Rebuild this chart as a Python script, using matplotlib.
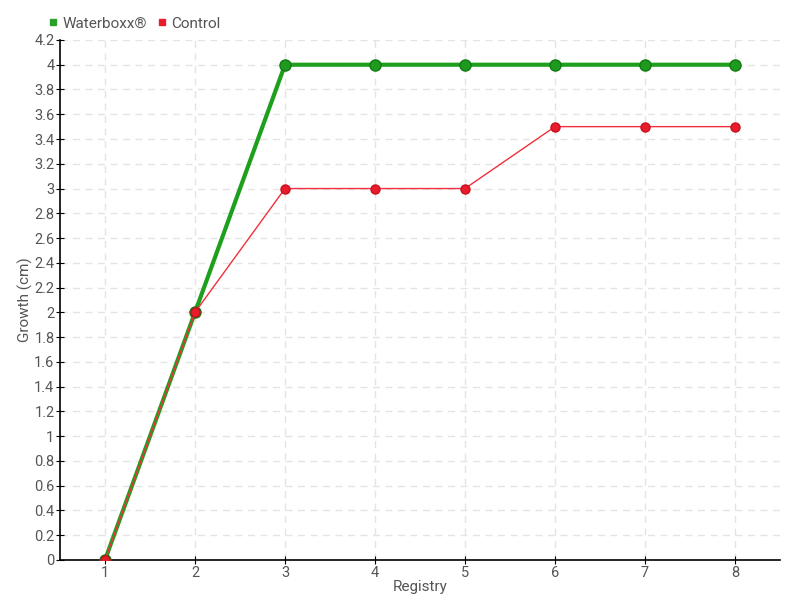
import matplotlib
matplotlib.use('Agg')
import matplotlib.pyplot as plt
from matplotlib.lines import Line2D
import numpy as np

registry = [1, 2, 3, 4, 5, 6, 7, 8]
waterboxx = [0, 2, 4, 4, 4, 4, 4, 4]
control = [0, 2, 3, 3, 3, 3.5, 3.5, 3.5]
yticks = np.round(np.arange(0, 4.21, 0.2), 1)

plt.rcParams['font.family'] = ['Roboto', 'DejaVu Sans']

fig = plt.figure(figsize=(8, 6), dpi=100)
ax = fig.add_axes([0.075, 0.0667, 0.9, 0.8667])

ax.plot(registry, waterboxx, color='#1ea01e', lw=3, marker='o', ms=8,
        mfc='#1e9a1e', mec='#137a13', label='Waterboxx®', zorder=3)
ax.plot(registry, control, color='#f0303c', lw=1, marker='o', ms=6.5,
        mfc='#e81c2a', mec='#c8101e', label='Control', zorder=4)

ax.set_xlim(0.5, 8.5)
ax.set_ylim(0, 4.2)
ax.set_xticks(registry)
ax.set_yticks(yticks)
ax.set_yticklabels(['%g' % v for v in yticks])
ax.grid(True, color='#e4e4e4', ls=(0, (5, 4)), lw=1)
ax.set_axisbelow(True)
for s in ['top', 'right']:
    ax.spines[s].set_visible(False)
ax.spines['left'].set_linewidth(1.2)
ax.spines['bottom'].set_linewidth(1.2)
ax.tick_params(direction='inout', length=6, labelsize=10.5, labelcolor='#555555', pad=1)
ax.set_xlabel('Registry', fontsize=11, color='#555555', labelpad=0)
ax.set_ylabel('Growth (cm)', fontsize=11, color='#555555')
ax.yaxis.set_label_coords(-0.038, 0.5)

handles = [Line2D([], [], ls='', marker='s', ms=5, color='#2aa02a'),
           Line2D([], [], ls='', marker='s', ms=5, color='#e81c2a')]
fig.legend(handles, ['Waterboxx®', 'Control'], loc='upper left',
           bbox_to_anchor=(0.042, 0.995), ncol=2, frameon=False, fontsize=11,
           handlelength=0.8, handletextpad=0.2, columnspacing=0.6,
           labelcolor='#555555')

fig.savefig('out.png', dpi=100)
